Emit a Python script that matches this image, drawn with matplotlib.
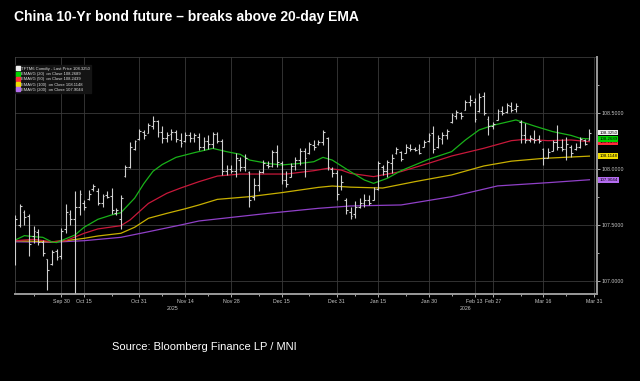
import numpy as np
import matplotlib
matplotlib.use("Agg")
import matplotlib.pyplot as plt
from matplotlib.lines import Line2D

plt.rcParams['font.family'] = ['Liberation Sans', 'DejaVu Sans']

# daily OHLC bars, index = trading day (0 = Sep 16 2025)
high = [107.59, 107.69, 107.63, 107.60, 107.49, 107.46, 107.37, 107.20, 107.28, 107.29,
        107.47, 107.69, 107.63, 107.80, 107.81, 107.72, 107.81, 107.87, 107.83, 107.78,
        107.80, 107.83, 107.65, 107.77, 108.04, 108.24, 108.26, 108.36, 108.35, 108.41,
        108.47, 108.44, 108.38, 108.33, 108.36, 108.35, 108.32, 108.33, 108.33, 108.32,
        108.32, 108.29, 108.30, 108.33, 108.33, 108.27, 108.04, 108.04, 108.14, 108.11,
        108.13, 107.98, 107.92, 107.99, 108.08, 108.07, 108.17, 108.21, 108.07, 107.98,
        108.05, 108.11, 108.19, 108.19, 108.24, 108.26, 108.26, 108.35, 108.29, 108.02,
        107.99, 107.95, 107.74, 107.66, 107.71, 107.74, 107.78, 107.77, 107.84, 108.07,
        108.04, 108.08, 108.13, 108.20, 108.16, 108.22, 108.22, 108.20, 108.22, 108.26,
        108.32, 108.38, 108.30, 108.33, 108.36, 108.50, 108.53, 108.51, 108.62, 108.66,
        108.63, 108.68, 108.69, 108.47, 108.42, 108.54, 108.56, 108.59, 108.60, 108.59,
        108.44, 108.41, 108.30, 108.35, 108.30, 108.19, 108.19, 108.26, 108.39, 108.27,
        108.29, 108.21, 108.23, 108.29, 108.27, 108.36]
low = [107.14, 107.48, 107.50, 107.22, 107.34, 107.32, 107.22, 106.92, 107.14, 107.19,
       107.20, 107.43, 107.50, 106.89, 107.59, 107.63, 107.72, 107.80, 107.68, 107.66,
       107.74, 107.60, 107.59, 107.46, 107.93, 108.01, 108.17, 108.26, 108.27, 108.32,
       108.36, 108.29, 108.23, 108.24, 108.26, 108.24, 108.20, 108.24, 108.24, 108.24,
       108.17, 108.17, 108.18, 108.19, 108.23, 107.95, 107.95, 107.96, 107.93, 107.98,
       107.98, 107.66, 107.72, 107.80, 107.96, 108.01, 108.02, 108.02, 107.87, 107.84,
       107.93, 107.99, 108.04, 107.93, 108.13, 108.17, 108.21, 108.21, 107.99, 107.93,
       107.72, 107.81, 107.60, 107.55, 107.56, 107.65, 107.66, 107.68, 107.72, 107.81,
       107.95, 107.93, 107.96, 108.13, 108.07, 108.14, 108.16, 108.16, 108.13, 108.20,
       108.24, 108.14, 108.19, 108.22, 108.27, 108.41, 108.45, 108.45, 108.53, 108.56,
       108.42, 108.51, 108.48, 108.30, 108.36, 108.44, 108.48, 108.50, 108.51, 108.51,
       108.23, 108.23, 108.24, 108.23, 108.23, 108.04, 108.10, 108.16, 108.17, 108.16,
       108.08, 108.11, 108.17, 108.19, 108.21, 108.26]
opn = [107.50, 107.50, 107.62, 107.58, 107.40, 107.44, 107.35, 107.20, 107.15, 107.27,
       107.22, 107.46, 107.60, 107.55, 107.66, 107.70, 107.73, 107.82, 107.80, 107.70,
       107.77, 107.76, 107.61, 107.55, 107.94, 108.02, 108.18, 108.27, 108.33, 108.32,
       108.38, 108.43, 108.33, 108.28, 108.31, 108.33, 108.26, 108.25, 108.30, 108.28,
       108.29, 108.20, 108.25, 108.22, 108.31, 108.25, 107.98, 108.00, 107.98, 108.08,
       108.02, 107.97, 107.75, 107.86, 107.97, 108.04, 108.03, 108.15, 108.05, 107.90,
       107.93, 108.03, 108.08, 108.16, 108.14, 108.21, 108.22, 108.24, 108.28, 108.00,
       107.96, 107.85, 107.72, 107.62, 107.60, 107.66, 107.70, 107.72, 107.72, 107.82,
       108.02, 107.98, 108.05, 108.14, 108.15, 108.14, 108.19, 108.18, 108.18, 108.20,
       108.25, 108.32, 108.20, 108.27, 108.30, 108.42, 108.47, 108.50, 108.53, 108.60,
       108.60, 108.52, 108.65, 108.45, 108.38, 108.44, 108.52, 108.51, 108.56, 108.54,
       108.42, 108.30, 108.26, 108.27, 108.27, 108.18, 108.10, 108.16, 108.24, 108.20,
       108.18, 108.20, 108.18, 108.20, 108.26, 108.26]
close = [107.55, 107.67, 107.57, 107.33, 107.45, 107.35, 107.25, 107.10, 107.26, 107.21,
         107.45, 107.62, 107.55, 107.66, 107.78, 107.66, 107.78, 107.85, 107.70, 107.76,
         107.75, 107.63, 107.63, 107.74, 108.02, 108.20, 108.25, 108.34, 108.30, 108.39,
         108.43, 108.33, 108.28, 108.30, 108.33, 108.27, 108.23, 108.30, 108.28, 108.30,
         108.20, 108.25, 108.22, 108.31, 108.25, 107.98, 108.00, 107.98, 108.10, 108.02,
         108.10, 107.72, 107.86, 107.97, 108.05, 108.03, 108.15, 108.06, 107.90, 107.87,
         108.03, 108.08, 108.16, 108.10, 108.22, 108.20, 108.24, 108.33, 108.02, 107.96,
         107.78, 107.88, 107.63, 107.58, 107.66, 107.70, 107.72, 107.70, 107.82, 108.05,
         107.98, 108.06, 108.10, 108.18, 108.09, 108.20, 108.18, 108.17, 108.14, 108.24,
         108.30, 108.18, 108.28, 108.30, 108.34, 108.48, 108.51, 108.47, 108.60, 108.62,
         108.45, 108.64, 108.50, 108.38, 108.40, 108.52, 108.50, 108.57, 108.53, 108.56,
         108.30, 108.26, 108.28, 108.26, 108.25, 108.10, 108.15, 108.24, 108.20, 108.18,
         108.22, 108.14, 108.20, 108.27, 108.22, 108.325]

# EMA lines at sample days
ema20_day = [0, 2, 4, 6, 8, 9, 10, 13, 15, 18, 21, 23, 26, 28, 30, 32, 35, 39, 43, 46, 49,
             51, 55, 58, 62, 65, 67, 69, 73, 76, 78, 81, 84, 90, 95, 98, 101, 104, 109, 113,
             117, 121, 123, 125]
ema20 = [107.366, 107.405, 107.396, 107.39, 107.348, 107.343, 107.36, 107.411, 107.48,
         107.551, 107.59, 107.61, 107.74, 107.87, 107.98, 108.04, 108.104, 108.146, 108.184,
         108.155, 108.131, 108.08, 108.05, 108.036, 108.05, 108.065, 108.104, 108.08,
         107.976, 107.902, 107.872, 107.917, 107.985, 108.087, 108.155, 108.259, 108.349,
         108.39, 108.438, 108.384, 108.334, 108.30, 108.274, 108.269]
ema50_day = [0, 4, 8, 11, 15, 18, 23, 25, 29, 33, 36, 40, 44, 49, 55, 59, 65, 68, 71, 73,
             78, 84, 90, 95, 102, 108, 111, 116, 121, 125]
ema50 = [107.36, 107.372, 107.35, 107.36, 107.426, 107.465, 107.494, 107.545, 107.693,
         107.783, 107.83, 107.887, 107.937, 107.955, 107.955, 107.955, 107.985, 108.006,
         107.99, 107.961, 107.932, 107.977, 108.051, 108.116, 108.185, 108.253, 108.265,
         108.253, 108.259, 108.244]
ema100_day = [0, 8, 11, 15, 18, 23, 26, 29, 33, 37, 40, 44, 51, 58, 66, 69, 73, 80, 87, 95,
              102, 108, 115, 125]
ema100 = [107.36, 107.35, 107.36, 107.381, 107.402, 107.426, 107.48, 107.56, 107.604,
          107.645, 107.679, 107.729, 107.753, 107.789, 107.836, 107.848, 107.838, 107.83,
          107.887, 107.947, 108.027, 108.07, 108.095, 108.115]
ema200_day = [0, 8, 15, 23, 29, 36, 40, 42, 55, 66, 73, 84, 95, 105, 116, 125]
ema200 = [107.35, 107.346, 107.36, 107.39, 107.44, 107.5, 107.536, 107.545, 107.604,
          107.649, 107.67, 107.679, 107.753, 107.849, 107.878, 107.904]

tick_days = [10, 15, 27, 37, 47, 58, 70, 79, 90, 100, 104, 115, 126]
tick_labels = ["Sep 30", "Oct 15", "Oct 31", "Nov 14", "Nov 28", "Dec 15", "Dec 31",
               "Jan 15", "Jan 30", "Feb 13", "Feb 27", "Mar 16", "Mar 31"]
minor_days = [4, 21, 32, 42, 53, 64, 74, 85, 95, 110, 120]

last_vals = [108.3250, 108.2689, 108.2439, 108.1148, 107.9044]
names = ["TFTM6 Comdty - Last Price", "EMAVG (20)  on Close", "EMAVG (50)  on Close",
         "EMAVG (100)  on Close", "EMAVG (200)  on Close"]
tag_colors = ["#f0f0f0", "#00d400", "#ff2a3a", "#f0dc00", "#b46cf0"]
line_colors = ["#e0e0e0", "#19b219", "#c8183a", "#c8b000", "#9040c8"]

fig = plt.figure(figsize=(6.4, 3.81), dpi=100, facecolor="black")
ax = fig.add_axes([15/640, 87/381, 582/640, 237/381])
ax.set_facecolor("black")

days = np.arange(len(high))
bar_col = "#d0d0d0"
ax.vlines(days, low, high, color=bar_col, lw=0.8, zorder=4)
ax.hlines(opn, days - 0.4, days, color=bar_col, lw=0.8, zorder=4)
ax.hlines(close, days, days + 0.4, color=bar_col, lw=0.8, zorder=4)

ax.plot(ema200_day, ema200, color=line_colors[4], lw=0.9, zorder=3)
ax.plot(ema100_day, ema100, color=line_colors[3], lw=0.9, zorder=3)
ax.plot(ema50_day, ema50, color=line_colors[2], lw=0.9, zorder=3)
ax.plot(ema20_day, ema20, color=line_colors[1], lw=0.9, zorder=3)

ax.set_xlim(-0.05, 126.65)
ax.set_ylim(106.884, 109.0)

ax.set_xticks(tick_days)
ax.set_xticklabels(tick_labels)
ax.set_xticks(minor_days, minor=True)
ax.yaxis.tick_right()
ax.set_yticks([107.0, 107.5, 108.0, 108.5])
ax.set_yticklabels(["%.4f" % v for v in [107.0, 107.5, 108.0, 108.5]])
ax.set_yticks([107.25, 107.75, 108.25, 108.75], minor=True)
ax.tick_params(axis="both", colors="#c8c8c8", labelsize=3.8, length=2, width=0.6, pad=1.5)
ax.tick_params(axis="both", which="minor", colors="#c8c8c8", length=1.5, width=0.6)
ax.grid(True, color="#3a3a3a", lw=0.6)
ax.axhline(109.0, color="#3a3a3a", lw=0.6)

ax.spines["top"].set_visible(False)
ax.spines["left"].set_color("#444444")
ax.spines["left"].set_linewidth(0.6)
ax.spines["bottom"].set_color("#9a9a9a")
ax.spines["bottom"].set_linewidth(1.4)
ax.spines["right"].set_color("#9a9a9a")
ax.spines["right"].set_linewidth(1.4)

ax.text(34.2, -0.052, "2025", transform=ax.get_xaxis_transform(), color="#c8c8c8",
        fontsize=3.8, ha="center", va="top")
ax.text(98.1, -0.052, "2026", transform=ax.get_xaxis_transform(), color="#c8c8c8",
        fontsize=3.8, ha="center", va="top")

# legend
handles = [Line2D([], [], ls="none", marker="s", ms=2.8, mfc=c, mec=c) for c in tag_colors]
labels = ["%s %.4f" % (n, v) for n, v in zip(names, last_vals)]
leg = ax.legend(handles, labels, loc="upper left", bbox_to_anchor=(0.0, 0.965),
                borderaxespad=0, fontsize=3.0, labelcolor="#e0e0e0", frameon=True,
                facecolor="#141414", edgecolor="#141414", framealpha=1,
                handlelength=0.6, handletextpad=0.5, labelspacing=0.3, borderpad=0.35)
leg.get_frame().set_boxstyle("square", pad=0)

# price tags on the right axis
for v, c in list(zip(last_vals, tag_colors))[::-1]:
    ax.annotate("%.4f" % v, xy=(1.004, v), xycoords=("axes fraction", "data"),
                fontsize=3.2, color="black", va="center", ha="left",
                bbox=dict(boxstyle="square,pad=0.2", fc=c, ec="none"),
                annotation_clip=False, zorder=6)

fig.text(14/640, 1 - 17/381, "China 10-Yr bond future \u2013 breaks above 20-day EMA",
         color="white", fontsize=10, fontweight="bold", va="center", ha="left")
fig.text(112/640, 1 - 347/381, "Source: Bloomberg Finance LP / MNI", color="white",
         fontsize=8, va="center", ha="left")

fig.savefig("out.png", dpi=100, facecolor="black")
